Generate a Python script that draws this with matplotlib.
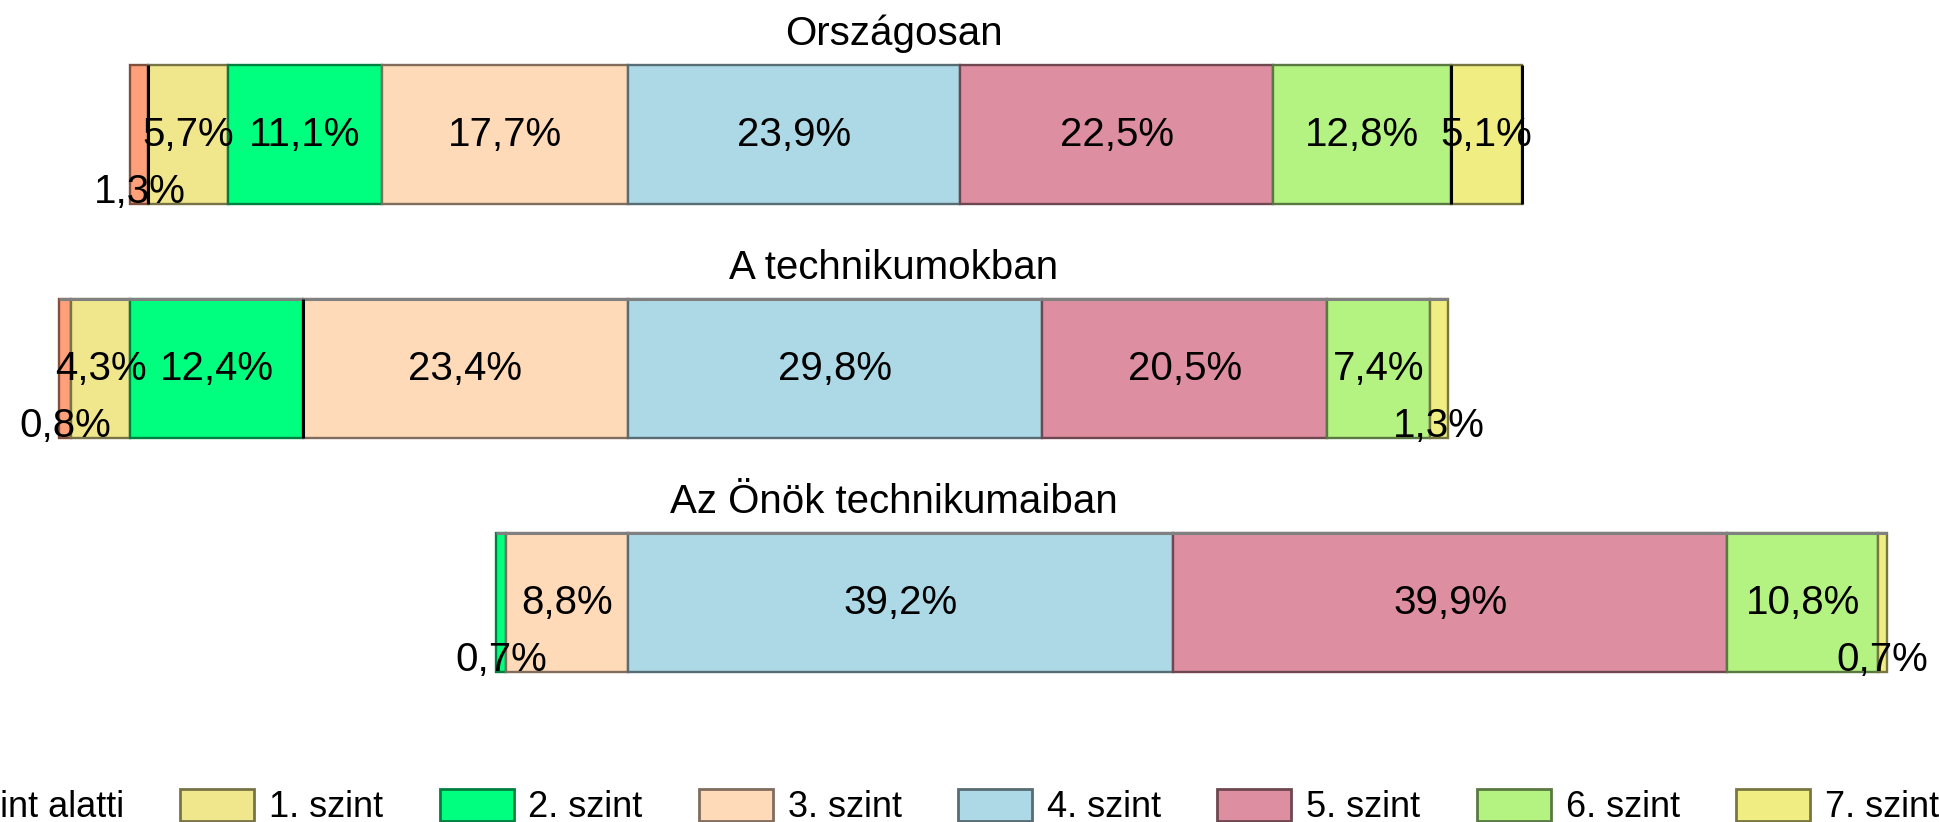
import matplotlib
matplotlib.use("Agg")
import matplotlib.pyplot as plt
from matplotlib.patches import Patch
from matplotlib.colors import to_rgb
import matplotlib.transforms as mtransforms

groups = ["Országosan", "A technikumokban", "Az Önök technikumaiban"]
levels = ["1. szint alatti", "1. szint", "2. szint", "3. szint",
          "4. szint", "5. szint", "6. szint", "7. szint"]
orszagosan = [1.3, 5.7, 11.1, 17.7, 23.9, 22.5, 12.8, 5.1]
technikumok = [0.8, 4.3, 12.4, 23.4, 29.8, 20.5, 7.4, 1.3]
onok = [0.0, 0.0, 0.7, 8.8, 39.2, 39.9, 10.8, 0.7]
colors = ["#FFA07A", "#F0E68C", "#00FF7F", "#FFDAB9",
          "#ADD8E6", "#DD8EA0", "#B4F282", "#F0EE82"]

series = [orszagosan, technikumok, onok]
# (group index, boundary index after which a black separator is drawn)
black_bounds = [(0, 1), (0, 7), (0, 8), (1, 3)]


def darker(c, f=0.5):
    r, g, b = to_rgb(c)
    return (r * f, g * f, b * f)


def fmt(v):
    return f"{v:.1f}".replace(".", ",") + "%"


plt.rcParams["font.family"] = ["Liberation Sans", "DejaVu Sans"]

W, H = 1939, 822
fig = plt.figure(figsize=(W / 100, H / 100), dpi=100)
ax = fig.add_axes([0, 0, 1, 1])
ax.axis("off")

zero_px = 628.0
px_per = 13.9
ax.set_xlim(-zero_px / px_per, (W - zero_px) / px_per)
y0_px, unit_px = 134.5, 234.0
ax.set_ylim((H - y0_px) / unit_px, -y0_px / unit_px)

bar_h = 0.59
title_x = 894 / W
trans_title = mtransforms.blended_transform_factory(ax.transAxes, ax.transData)

for i, vals in enumerate(series):
    start = -sum(vals[:4])
    left = start
    bounds = [left]
    for j, v in enumerate(vals):
        if v > 0:
            ax.barh(i, v, left=left, height=bar_h, color=colors[j],
                    edgecolor=darker(colors[j]), linewidth=1.7, zorder=2)
            cx = left + v / 2
            if v < 2:
                ax.text(cx, i + bar_h / 2 - 0.004, fmt(v), ha="center",
                        va="baseline", fontsize=29, color="black", zorder=5)
            else:
                ax.text(cx, i + 0.002, fmt(v), ha="center", va="center",
                        fontsize=29, color="black", zorder=5)
        left += v
        bounds.append(left)
    if i > 0:
        ax.hlines(i - bar_h / 2, start, left, color="#808080", lw=2.2, zorder=3)
    for g, b in black_bounds:
        if g == i:
            ax.vlines(bounds[b], i - bar_h / 2, i + bar_h / 2, color="black",
                      lw=2.2, zorder=4)
    ax.text(title_x, i - 0.382, groups[i], transform=trans_title,
            ha="center", va="baseline", fontsize=29, color="black")

handles = [Patch(facecolor=c, edgecolor=darker(c), linewidth=2.0) for c in colors]
fig.legend(handles, levels, loc="center", bbox_to_anchor=(887 / W, 1 - 807 / H),
           ncol=8, frameon=False, fontsize=26, handlelength=2.05,
           handleheight=1.0, handletextpad=0.41, columnspacing=1.56,
           borderpad=0, borderaxespad=0)

fig.savefig("out.png", dpi=100)
